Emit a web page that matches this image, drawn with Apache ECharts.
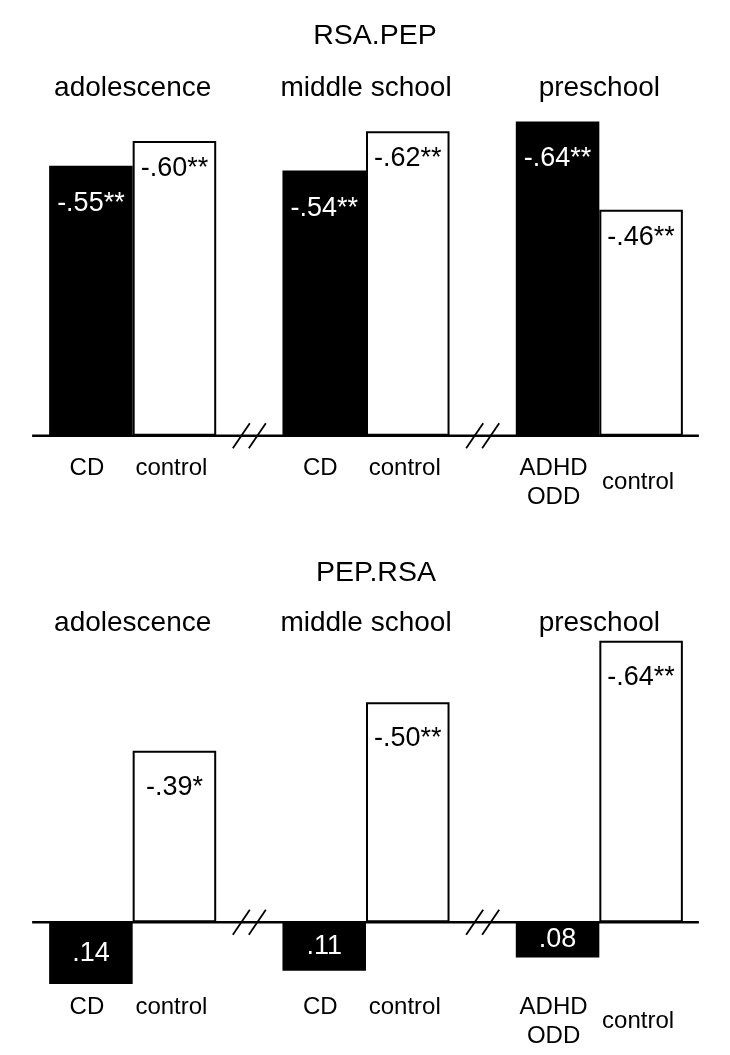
<!DOCTYPE html>
<html><head><meta charset="utf-8">
<script src="https://cdn.jsdelivr.net/npm/echarts@6/dist/echarts.min.js"></script>
<style>html,body{margin:0;padding:0;background:#fff}#c{width:730px;height:1055px}</style>
</head><body><div id="c"></div>
<script>
// ---- data ----
const panelTitles = ['RSA.PEP', 'PEP.RSA'];
const groups = ['adolescence', 'middle school', 'preschool'];
const clinicalNames = ['CD', 'CD', 'ADHD\nODD'];
const controlNames = ['control', 'control', 'control'];
// correlations (negative drawn upward)
const rsaPepClinical = [-0.55, -0.54, -0.64];
const rsaPepControl  = [-0.60, -0.62, -0.46];
const pepRsaClinical = [0.14, 0.11, 0.08];
const pepRsaControl  = [-0.39, -0.50, -0.64];
// significance marks
const rsaPepClinicalSig = ['**', '**', '**'];
const rsaPepControlSig  = ['**', '**', '**'];
const pepRsaClinicalSig = ['', '', ''];
const pepRsaControlSig  = ['*', '**', '**'];

// ---- helpers ----
const FONT = 'Liberation Sans, Arial, Helvetica, sans-serif';
const BAR_FRAC = 0.358;
function fmt(v, sig) {
  return (v < 0 ? '-' : '') + Math.abs(v).toFixed(2).replace(/^0/, '') + sig;
}
function barData(vals, sigs, topDist) {
  return vals.map((v, i) => ({
    value: v,
    label: v < 0
      ? { position: 'insideTop', distance: topDist, formatter: fmt(v, sigs[i]) }
      : { position: 'inside', formatter: fmt(v, sigs[i]) }
  }));
}
function barSeries(idx, vals, sigs, isClinical, topDist) {
  return {
    type: 'bar', xAxisIndex: idx, yAxisIndex: idx,
    barWidth: (BAR_FRAC * 100) + '%', barGap: '0%',
    itemStyle: { color: isClinical ? '#000' : '#fff', borderColor: '#000', borderWidth: 2 },
    label: { show: true, color: isClinical ? '#fff' : '#000', fontSize: 27, fontFamily: FONT, lineHeight: 27 },
    data: barData(vals, sigs, topDist),
    silent: true, animation: false
  };
}
function catLabelSeries(idx, offsetY) {
  return {
    type: 'custom', xAxisIndex: idx, yAxisIndex: idx, silent: true, z: 5, animation: false,
    data: groups.map((g, i) => [i, 0]),
    renderItem(params, api) {
      const i = api.value(0);
      const c = api.coord([i, 0]);
      const bw = api.size([1, 0])[0] * BAR_FRAC;
      const lh = 28.5;
      const clin = clinicalNames[i];
      const n = clin.split('\n').length;
      const y = c[1] + offsetY;
      const st = { fontSize: 24, fontFamily: FONT, lineHeight: lh, fill: '#000', align: 'center', verticalAlign: 'top' };
      return { type: 'group', children: [
        { type: 'text', style: Object.assign({ text: clin, x: c[0] - bw / 2 - 4, y: y }, st) },
        { type: 'text', style: Object.assign({ text: controlNames[i], x: c[0] + bw / 2 - 3, y: y + (n - 1) * lh / 2 }, st) }
      ]};
    }
  };
}
function decorSeries(idx) {
  return {
    type: 'custom', xAxisIndex: idx, yAxisIndex: idx, silent: true, z: 6, animation: false,
    data: [[0, 0]],
    renderItem(params, api) {
      const c0 = api.coord([0, 0]);
      const c1 = api.coord([1, 0]);
      const c2 = api.coord([2, 0]);
      const bw = api.size([1, 0])[0] * BAR_FRAC;
      const y = c0[1];
      const ls = { stroke: '#000', lineWidth: 2.5 };
      const children = [
        { type: 'line', shape: { x1: c0[0] - bw - 17, y1: y, x2: c2[0] + bw + 16, y2: y }, style: ls }
      ];
      [[c0, c1], [c1, c2]].forEach(([a, b]) => {
        const m = (a[0] + b[0]) / 2;
        children.push({ type: 'line', shape: { x1: m - 16.5, y1: y + 12.5, x2: m + 0.5, y2: y - 12.5 }, style: { stroke: '#000', lineWidth: 1.8 } });
        children.push({ type: 'line', shape: { x1: m - 0.5, y1: y + 12.5, x2: m + 16.5, y2: y - 12.5 }, style: { stroke: '#000', lineWidth: 1.8 } });
      });
      return { type: 'group', children };
    }
  };
}

const chart = echarts.init(document.getElementById('c'), null, { renderer: 'canvas' });
const xAxisBase = (idx, margin) => ({
  type: 'category', gridIndex: idx, data: groups, position: 'top',
  axisLine: { show: false }, axisTick: { show: false }, splitLine: { show: false },
  axisLabel: { margin: margin, fontSize: 28, fontFamily: FONT, color: '#000' }
});
const yAxisBase = (idx, min, max) => ({
  type: 'value', gridIndex: idx, inverse: true, min: min, max: max, show: false
});

chart.setOption({
  backgroundColor: '#fff',
  animation: false,
  title: [
    { text: panelTitles[0], left: 375, top: 36.5, padding: 0, textAlign: 'center', textVerticalAlign: 'middle',
      textStyle: { fontSize: 28.5, fontWeight: 'normal', fontFamily: FONT, color: '#000' } },
    { text: panelTitles[1], left: 376, top: 573.5, padding: 0, textAlign: 'center', textVerticalAlign: 'middle',
      textStyle: { fontSize: 28.5, fontWeight: 'normal', fontFamily: FONT, color: '#000' } }
  ],
  grid: [
    { left: 16, right: 14, top: 92, height: 343.7 },
    { left: 16, right: 14, top: 614.3, height: 396 }
  ],
  xAxis: [xAxisBase(0, -10), xAxisBase(1, -22.5)],
  yAxis: [yAxisBase(0, -0.7, 0), yAxisBase(1, -0.7, 0.2)],
  series: [
    barSeries(0, rsaPepClinical, rsaPepClinicalSig, true, 24),
    barSeries(0, rsaPepControl, rsaPepControlSig, false, 14),
    catLabelSeries(0, 18.5),
    decorSeries(0),
    barSeries(1, pepRsaClinical, pepRsaClinicalSig, true, 21),
    barSeries(1, pepRsaControl, pepRsaControlSig, false, 23),
    catLabelSeries(1, 71),
    decorSeries(1)
  ]
});
</script>
</body></html>
